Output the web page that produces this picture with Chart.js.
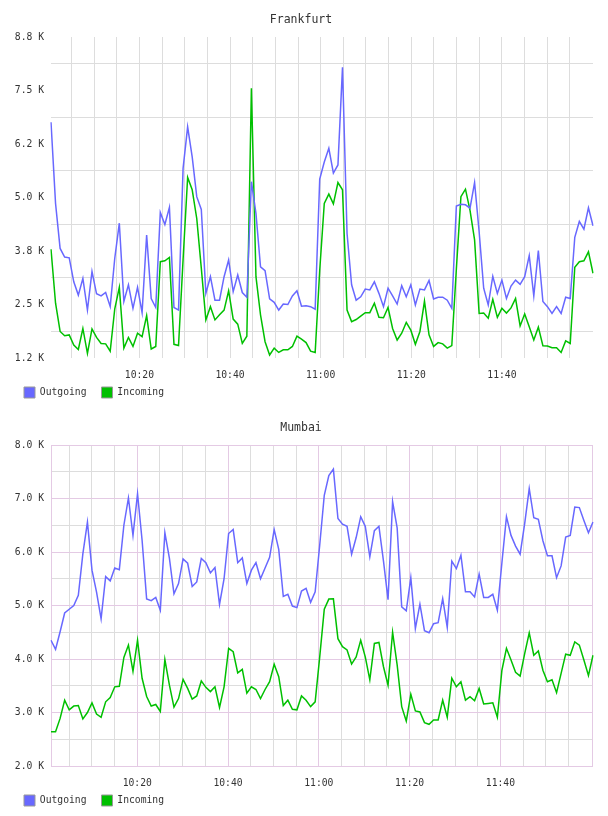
<!DOCTYPE html>
<html>
<head>
<meta charset="utf-8">
<script src="https://cdn.jsdelivr.net/npm/chart.js@4.4.1/dist/chart.umd.min.js"></script>
<style>
    html, body { margin: 0; padding: 0; background: #fff; overflow: hidden; }
    .box { position: absolute; left: 0; width: 608px; height: 408px; }
</style>
</head>
<body>
<div class="box" style="top:0"><canvas id="frankfurt"></canvas></div>
<div class="box" style="top:408px"><canvas id="mumbai"></canvas></div>
<script>
// Datos: una muestra por minuto, de 10:00 a 12:00
const frankfurtOutgoing = [
    6760,4860,3810,3610,3590,3030,2720,3110,2370,3270,
    2750,2700,2780,2450,3580,4400,2570,2960,2410,2900,
    2310,4120,2640,2430,4650,4370,4770,2430,2370,5680,
    6650,5950,5020,4720,2760,3150,2600,2600,3150,3540,
    2800,3190,2780,2670,5370,4630,3380,3290,2630,2550,
    2370,2510,2500,2700,2820,2460,2470,2450,2390,5430,
    5830,6150,5570,5760,8040,4160,2960,2600,2680,2860,
    2840,3030,2760,2450,2880,2700,2510,2940,2680,2960,
    2490,2860,2840,3060,2630,2670,2670,2600,2410,4800,
    4840,4830,4750,5350,4200,2880,2490,3160,2760,3070,
    2640,2930,3070,2970,3150,3640,2700,3760,2570,2450,
    2290,2450,2290,2670,2640,4070,4440,4260,4760,4340
];
const frankfurtIncoming = [
    3790,2530,1870,1770,1790,1550,1450,1940,1360,1930,
    1730,1590,1580,1410,2400,2900,1480,1730,1520,1830,
    1750,2240,1460,1520,3500,3520,3600,1570,1540,3550,
    5470,5180,4510,3350,2140,2450,2140,2260,2370,2820,
    2160,2040,1590,1760,7550,3150,2260,1630,1320,1480,
    1380,1440,1440,1520,1760,1690,1610,1410,1380,3300,
    4860,5080,4850,5350,5180,2370,2100,2150,2230,2310,
    2310,2530,2200,2190,2430,1940,1670,1830,2080,1900,
    1570,1870,2580,1790,1520,1610,1580,1480,1540,3330,
    5020,5195,4700,4010,2290,2300,2180,2620,2200,2410,
    2300,2420,2640,2000,2280,1980,1670,1970,1535,1530,
    1490,1490,1380,1650,1590,3370,3500,3520,3730,3230
];
const mumbaiOutgoing = [
    4350,4180,4510,4860,4930,5000,5190,5970,6560,5660,
    5250,4750,5540,5460,5700,5670,6500,7010,6310,7090,
    6220,5120,5090,5150,4910,6360,5880,5220,5410,5870,
    5790,5355,5440,5880,5800,5610,5710,5020,5500,6345,
    6420,5800,5890,5410,5660,5800,5500,5700,5900,6420,
    6050,5170,5210,4990,4960,5270,5320,5060,5255,6130,
    7060,7430,7550,6625,6520,6480,5960,6270,6660,6480,
    5910,6400,6480,5830,5110,6940,6450,4975,4900,5520,
    4570,5025,4530,4490,4660,4680,5130,4590,5830,5690,
    5940,5255,5255,5160,5585,5150,5150,5210,4910,5800,
    6660,6310,6110,5960,6530,7185,6640,6610,6210,5930,
    5930,5520,5740,6280,6310,6840,6830,6590,6360,6560
];
const mumbaiIncoming = [
    2640,2640,2890,3230,3050,3120,3130,2880,3000,3180,
    2970,2910,3200,3280,3480,3490,4030,4260,3770,4350,
    3640,3300,3120,3150,3020,3990,3510,3100,3260,3620,
    3450,3250,3310,3590,3470,3390,3480,3095,3480,4200,
    4135,3740,3805,3360,3480,3430,3260,3430,3575,3900,
    3670,3130,3230,3060,3050,3310,3230,3110,3200,4040,
    4930,5120,5125,4380,4230,4170,3905,4040,4350,4040,
    3610,4290,4310,3855,3510,4500,3890,3110,2840,3340,
    3030,3010,2810,2780,2860,2860,3230,2910,3640,3480,
    3575,3230,3295,3220,3450,3160,3170,3180,2910,3790,
    4200,3980,3750,3680,4100,4490,4070,4150,3790,3575,
    3610,3370,3730,4090,4070,4320,4260,3980,3690,4070
];

// Etiquetas de los ejes
const frankfurtYLabels = ['1.2 K', '2.5 K', '3.8 K', '5.0 K', '6.2 K', '7.5 K', '8.8 K'];
const mumbaiYLabels = ['2.0 K', '3.0 K', '4.0 K', '5.0 K', '6.0 K', '7.0 K', '8.0 K'];
const timeTickMinutes = [20, 40, 60, 80, 100];
const timeTickLabels = ['10:20', '10:40', '11:00', '11:20', '11:40'];
const seriesNames = ['Outgoing', 'Incoming'];

const BLUE = '#6868ff';
const GREEN = '#00c000';
const GREY_GRID = '#dddddd';
const PINK_GRID = '#e4cae4';
const TEXT = '#333';

Chart.defaults.font.family = "'DejaVu Sans Mono', monospace";
Chart.defaults.font.size = 9.7;
Chart.defaults.color = TEXT;

// Marco del área de datos (solo Mumbai)
const framePlugin = {
    id: 'frame',
    beforeDatasetsDraw(chart, args, opts) {
        if (!opts.color) return;
        const a = chart.chartArea;
        const ctx = chart.ctx;
        ctx.save();
        ctx.strokeStyle = opts.color;
        ctx.lineWidth = 1;
        ctx.strokeRect(Math.round(a.left) + 0.5, Math.round(a.top) + 0.5,
            Math.round(a.right - a.left) - 1, Math.round(a.bottom - a.top));
        ctx.restore();
    }
};

function timeLabel(value) {
    const i = timeTickMinutes.indexOf(value);
    return i >= 0 ? timeTickLabels[i] : '';
}

function buildChart(id, title, outgoing, incoming, cfg) {
    const ctx = document.getElementById(id).getContext('2d');
    return new Chart(ctx, {
        type: 'line',
        data: {
            labels: outgoing.map((_, i) => i),
            datasets: [{
                label: seriesNames[0],
                data: outgoing,
                borderColor: BLUE,
                backgroundColor: BLUE,
                borderWidth: 1.5,
                pointRadius: 0,
                tension: 0,
                fill: false
            }, {
                label: seriesNames[1],
                data: incoming,
                borderColor: GREEN,
                backgroundColor: GREEN,
                borderWidth: 1.5,
                pointRadius: 0,
                tension: 0,
                fill: false
            }]
        },
        options: {
            responsive: true,
            maintainAspectRatio: false,
            animation: false,
            layout: { padding: { left: 9, right: 15, top: 0, bottom: 0 } },
            plugins: {
                title: {
                    display: true,
                    text: title,
                    color: TEXT,
                    font: { size: 11.5, weight: 'normal' },
                    padding: { top: 13.1, bottom: 10.1 }
                },
                legend: {
                    position: 'bottom',
                    align: 'start',
                    labels: {
                        boxWidth: 11,
                        boxHeight: 11,
                        padding: 15,
                        color: TEXT,
                        font: { size: 9.7 },
                        generateLabels(chart) {
                            const items = Chart.defaults.plugins.legend.labels.generateLabels(chart);
                            items.forEach(it => { it.strokeStyle = '#999'; it.lineWidth = 1; });
                            return items;
                        }
                    }
                },
                tooltip: { enabled: false },
                frame: { color: cfg.frameColor }
            },
            scales: {
                x: { type: 'category', display: false },
                t: {
                    type: 'linear',
                    position: 'bottom',
                    min: cfg.tMin,
                    max: cfg.tMax,
                    afterFit(s) { s.height = 14; },
                    afterBuildTicks(s) { s.ticks = s.ticks.filter(tk => tk.value <= 115); },
                    border: { display: false },
                    grid: { drawTicks: false, color: cfg.xGridColor },
                    ticks: {
                        stepSize: 5,
                        includeBounds: false,
                        autoSkip: false,
                        maxRotation: 0,
                        // mirror evita el recorte de las etiquetas; el padding negativo las baja
                        mirror: true,
                        padding: -22.8,
                        callback: v => timeLabel(v)
                    }
                },
                y: {
                    min: cfg.yMin,
                    max: cfg.yMax,
                    afterFit(s) { s.width = 42; },
                    border: { display: false },
                    grid: { drawTicks: false, offset: cfg.yGridOffset, color: cfg.yGridColor },
                    ticks: {
                        stepSize: cfg.yStep,
                        autoSkip: false,
                        padding: 7,
                        callback: cfg.yLabel
                    }
                }
            }
        },
        plugins: [framePlugin]
    });
}

buildChart('frankfurt', 'Frankfurt', frankfurtOutgoing, frankfurtIncoming, {
    tMin: 0.49, tMax: 120.1,
    yMin: 1250, yMax: 8750, yStep: 1250,
    yGridOffset: true,
    yLabel: (v, i) => frankfurtYLabels[i],
    xGridColor: GREY_GRID,
    yGridColor: GREY_GRID,
    frameColor: null
});

buildChart('mumbai', 'Mumbai', mumbaiOutgoing, mumbaiIncoming, {
    tMin: 1.0, tMax: 120.4,
    yMin: 2000, yMax: 8000, yStep: 500,
    yGridOffset: false,
    yLabel: v => (v % 1000 === 0 ? mumbaiYLabels[(v - 2000) / 1000] : ''),
    xGridColor: c => (c.tick && c.tick.value % 20 === 0 ? PINK_GRID : GREY_GRID),
    yGridColor: c => (c.tick && c.tick.value % 1000 === 0 ? PINK_GRID : GREY_GRID),
    frameColor: PINK_GRID
});
</script>
</body>
</html>
